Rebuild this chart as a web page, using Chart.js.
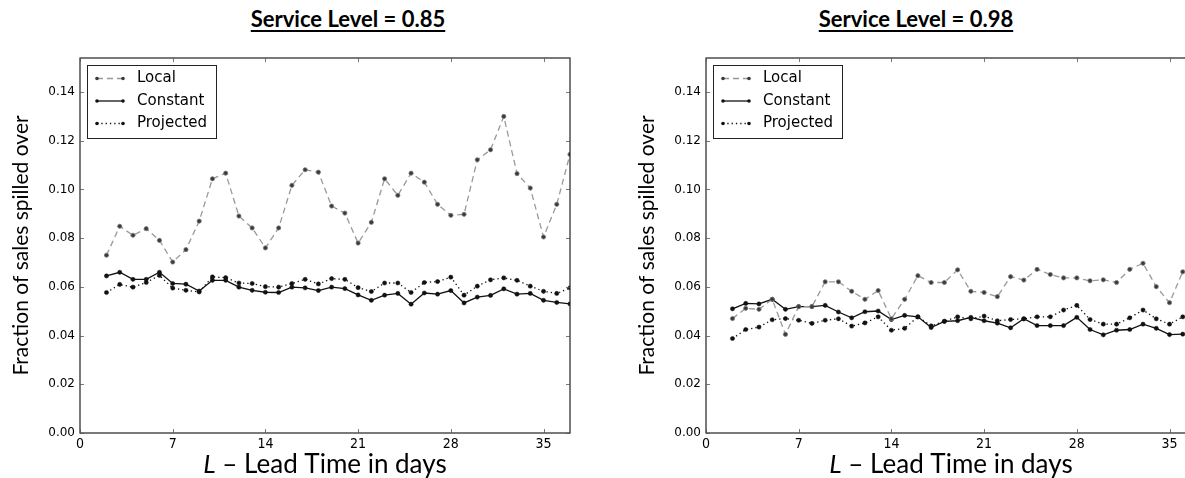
<!DOCTYPE html>
<html>
<head>
<meta charset="utf-8">
<script src="https://cdn.jsdelivr.net/npm/chart.js@4.4.1/dist/chart.umd.min.js"></script>
<style>
  html, body { margin: 0; padding: 0; background: #fff; }
  body { width: 1185px; height: 478px; overflow: hidden; position: relative; }
  canvas { position: absolute; top: 0; }
  .panel-title {
    position: absolute; top: 5px; width: 400px; text-align: center;
    font-family: Lato, "Open Sans", sans-serif; font-weight: 700; font-size: 22px;
    color: #000; text-decoration: underline; text-decoration-thickness: 2px;
    text-underline-offset: 3px; white-space: nowrap;
  }
</style>
</head>
<body>
<div class="panel-title" style="left:148px">Service Level = 0.85</div>
<div class="panel-title" style="left:716px">Service Level = 0.98</div>
<canvas id="sl85" width="600" height="478" style="left:0px"></canvas>
<canvas id="sl98" width="600" height="478" style="left:626px"></canvas>
<script>
// Lead times (days) and spill-over fractions per forecasting method
const days85 = [2,3,4,5,6,7,8,9,10,11,12,13,14,15,16,17,18,19,20,21,22,23,24,25,26,27,28,29,30,31,32,33,34,35,36,37];
const local85 = [0.0730,0.0849,0.0812,0.0839,0.0791,0.0702,0.0753,0.0870,0.1044,0.1067,0.0891,0.0842,0.0760,0.0842,0.1017,0.1081,0.1071,0.0932,0.0903,0.0780,0.0865,0.1044,0.0976,0.1067,0.1030,0.0939,0.0894,0.0898,0.1122,0.1163,0.1300,0.1065,0.1006,0.0805,0.0939,0.1144];
const constant85 = [0.0645,0.0660,0.0631,0.0631,0.0660,0.0614,0.0611,0.0583,0.0627,0.0627,0.0599,0.0586,0.0578,0.0577,0.0599,0.0596,0.0585,0.0599,0.0593,0.0567,0.0545,0.0566,0.0573,0.0529,0.0575,0.0570,0.0585,0.0534,0.0558,0.0565,0.0592,0.0570,0.0573,0.0545,0.0536,0.0530];
const projected85 = [0.0577,0.0610,0.0599,0.0618,0.0647,0.0595,0.0586,0.0579,0.0641,0.0638,0.0616,0.0614,0.0601,0.0599,0.0614,0.0631,0.0612,0.0634,0.0631,0.0597,0.0581,0.0616,0.0616,0.0577,0.0618,0.0622,0.0640,0.0566,0.0603,0.0629,0.0637,0.0627,0.0603,0.0582,0.0573,0.0596];

const days98 = [2,3,4,5,6,7,8,9,10,11,12,13,14,15,16,17,18,19,20,21,22,23,24,25,26,27,28,29,30,31,32,33,34,35,36];
const local98 = [0.0470,0.0512,0.0508,0.0549,0.0405,0.0519,0.0519,0.0621,0.0621,0.0582,0.0549,0.0585,0.0469,0.0549,0.0646,0.0618,0.0618,0.0670,0.0582,0.0577,0.0560,0.0642,0.0628,0.0672,0.0651,0.0637,0.0637,0.0625,0.0629,0.0618,0.0672,0.0697,0.0601,0.0535,0.0662];
const constant98 = [0.0510,0.0532,0.0530,0.0549,0.0508,0.0519,0.0519,0.0524,0.0497,0.0473,0.0498,0.0501,0.0466,0.0483,0.0477,0.0433,0.0458,0.0461,0.0475,0.0461,0.0451,0.0432,0.0469,0.0441,0.0441,0.0441,0.0475,0.0425,0.0403,0.0422,0.0425,0.0447,0.0430,0.0404,0.0406];
const projected98 = [0.0388,0.0425,0.0435,0.0465,0.0470,0.0463,0.0450,0.0463,0.0469,0.0439,0.0452,0.0477,0.0422,0.0430,0.0477,0.0440,0.0459,0.0477,0.0469,0.0480,0.0461,0.0466,0.0469,0.0477,0.0477,0.0505,0.0524,0.0466,0.0447,0.0447,0.0473,0.0505,0.0469,0.0447,0.0477];

// Axis ticks and limits
const xTicks = [0, 7, 14, 21, 28, 35];
const yTicks = [0, 0.02, 0.04, 0.06, 0.08, 0.10, 0.12, 0.14];
const xMax = 37;
const yMax = 0.154;

const seriesNames = ['Local', 'Constant', 'Projected'];

function pairs(xs, ys) { return xs.map((x, i) => ({ x: x, y: ys[i] })); }

// Frame, inward tick marks, in-plot legend and the lead-time axis title
const framePlugin = {
  id: 'frame',
  afterDraw(chart) {
    const ctx = chart.ctx, a = chart.chartArea;
    const xs = chart.scales.x, ys = chart.scales.y;
    ctx.save();
    ctx.strokeStyle = '#222';
    ctx.lineWidth = 1.2;
    ctx.setLineDash([]);
    ctx.strokeRect(a.left, a.top, a.right - a.left, a.bottom - a.top);

    ctx.lineWidth = 0.8;
    ctx.strokeStyle = '#555';
    ctx.beginPath();
    xTicks.forEach(v => {
      const px = Math.round(xs.getPixelForValue(v)) + 0.5;
      ctx.moveTo(px, a.bottom); ctx.lineTo(px, a.bottom - 4);
      ctx.moveTo(px, a.top); ctx.lineTo(px, a.top + 4);
    });
    yTicks.forEach(v => {
      const py = Math.round(ys.getPixelForValue(v)) + 0.5;
      ctx.moveTo(a.left, py); ctx.lineTo(a.left + 4, py);
      ctx.moveTo(a.right, py); ctx.lineTo(a.right - 4, py);
    });
    ctx.stroke();

    // legend box
    const bx = a.left + 7.5, by = a.top + 7.5;
    ctx.fillStyle = '#fff';
    ctx.fillRect(bx, by, 129, 73);
    ctx.strokeStyle = '#222';
    ctx.lineWidth = 1;
    ctx.strokeRect(bx, by, 129, 73);
    chart.data.datasets.forEach((ds, i) => {
      const ry = a.top + 20.5 + i * 22.5;
      const x0 = a.left + 17, x1 = a.left + 43;
      ctx.strokeStyle = ds.borderColor;
      ctx.lineWidth = ds.borderWidth;
      ctx.setLineDash(ds.borderDash || []);
      ctx.beginPath(); ctx.moveTo(x0, ry); ctx.lineTo(x1, ry); ctx.stroke();
      ctx.setLineDash([]);
      ctx.fillStyle = ds.pointBackgroundColor;
      [x0, x1].forEach(px => { ctx.beginPath(); ctx.arc(px, ry, 1.8, 0, Math.PI * 2); ctx.fill(); });
      ctx.fillStyle = '#000';
      ctx.font = '15px "DejaVu Sans", sans-serif';
      ctx.textBaseline = 'middle';
      ctx.textAlign = 'left';
      ctx.fillText(ds.label, a.left + 57, ry);
    });

    // x-axis title with italic L
    const partA = 'L', partB = ' \u2013 Lead Time in days';
    const fA = 'italic 26px Lato, sans-serif', fB = '26px Lato, sans-serif';
    ctx.font = fA; const wA = ctx.measureText(partA).width;
    ctx.font = fB; const wB = ctx.measureText(partB).width;
    const cx = (a.left + a.right) / 2;
    const sx = cx - (wA + wB) / 2;
    ctx.fillStyle = '#000';
    ctx.textBaseline = 'alphabetic';
    ctx.textAlign = 'left';
    ctx.font = fA; ctx.fillText(partA, sx, 473);
    ctx.font = fB; ctx.fillText(partB, sx + wA, 473);
    ctx.restore();
  }
};

function makeChart(id, days, local, constant, projected) {
  const common = { showLine: true, tension: 0, fill: false, pointRadius: 2.1, pointHoverRadius: 2.1, borderWidth: 1.3 };
  return new Chart(document.getElementById(id), {
    type: 'scatter',
    data: {
      datasets: [
        Object.assign({}, common, { label: seriesNames[0], data: pairs(days, local),
          borderColor: '#999', borderDash: [6, 4], pointBackgroundColor: '#3a3a3a', pointBorderColor: '#777', pointBorderWidth: 0.8 }),
        Object.assign({}, common, { label: seriesNames[1], data: pairs(days, constant),
          borderColor: '#111', borderDash: [], pointBackgroundColor: '#111', pointBorderColor: '#111', pointBorderWidth: 0.5 }),
        Object.assign({}, common, { label: seriesNames[2], data: pairs(days, projected),
          borderColor: '#111', borderDash: [1.3, 3], pointBackgroundColor: '#111', pointBorderColor: '#111', pointBorderWidth: 0.5 })
      ]
    },
    options: {
      responsive: false,
      animation: false,
      devicePixelRatio: 1,
      layout: { padding: { left: 0, right: 30, top: 58, bottom: 0 } },
      plugins: { legend: { display: false }, tooltip: { enabled: false }, title: { display: false } },
      scales: {
        x: {
          type: 'linear', min: 0, max: xMax,
          afterBuildTicks: s => { s.ticks = xTicks.map(v => ({ value: v })); },
          afterFit: s => { s.height = 45; },
          grid: { display: false, drawTicks: false },
          border: { display: false },
          ticks: { padding: 3, color: '#000', maxRotation: 0, autoSkip: false,
            font: { family: '"Liberation Sans Narrow", "DejaVu Sans Condensed", sans-serif', size: 14 },
            callback: v => String(v) }
        },
        y: {
          type: 'linear', min: 0, max: yMax,
          afterBuildTicks: s => { s.ticks = yTicks.map(v => ({ value: v })); },
          afterFit: s => { s.width = 80; },
          grid: { display: false, drawTicks: false },
          border: { display: false },
          ticks: { padding: 5, color: '#000', autoSkip: false,
            font: { family: '"DejaVu Sans", sans-serif', size: 12 },
            callback: v => Number(v).toFixed(2) },
          title: { display: true, text: 'Fraction of sales spilled over', color: '#000',
            font: { family: 'Lato, sans-serif', size: 21 }, padding: { top: 9, bottom: 0 } }
        }
      }
    },
    plugins: [framePlugin]
  });
}

makeChart('sl85', days85, local85, constant85, projected85);
makeChart('sl98', days98, local98, constant98, projected98);
</script>
</body>
</html>
